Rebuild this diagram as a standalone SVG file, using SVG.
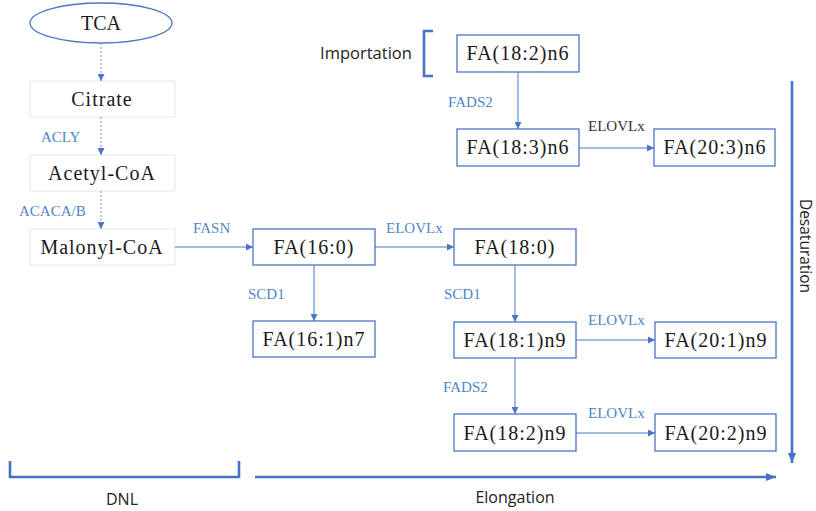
<svg xmlns="http://www.w3.org/2000/svg" width="816" height="511" viewBox="0 0 816 511">
  <style>
    .node { fill: #ffffff; stroke: #4a76c8; stroke-width: 1.3; }
    .pale { fill: #ffffff; stroke: #e6e6e6; stroke-width: 1; }
    .txt { font-family: "Liberation Serif", "Times New Roman", serif; font-size: 20px; fill: #1a1a1a; text-anchor: middle; letter-spacing: 1px; }
    .enz { font-family: "Liberation Serif", "Times New Roman", serif; font-size: 15px; fill: #4f86c6; }
    .enzd { font-family: "Liberation Serif", "Times New Roman", serif; font-size: 15px; fill: #333333; }
    .sans { font-family: "Open Sans", "Liberation Sans", sans-serif; font-size: 16px; fill: #222222; text-anchor: middle; }
    .edge { stroke: #4a76c8; stroke-width: 1; fill: none; marker-end: url(#tip); }
    .dash { stroke: #6f93d4; stroke-width: 1; fill: none; stroke-dasharray: 2 2; marker-end: url(#tip); }
    .bold { stroke: #4472c4; stroke-width: 2.6; fill: none; }
  </style>
  <defs>
    <marker id="tip" viewBox="0 0 10 10" refX="10" refY="5" markerWidth="7" markerHeight="7" markerUnits="userSpaceOnUse" orient="auto">
      <path d="M0,0 L10,5 L0,10 z" fill="#4a76c8"/>
    </marker>
    <marker id="bigtip" viewBox="0 0 10 10" refX="10" refY="5" markerWidth="10" markerHeight="10" markerUnits="userSpaceOnUse" orient="auto">
      <path d="M0,1 L10,5 L0,9 z" fill="#4472c4"/>
    </marker>
  </defs>

  <!-- de novo lipogenesis column -->
  <g id="tca">
    <ellipse cx="101" cy="23" rx="71" ry="20" fill="#ffffff" stroke="#4a76c8" stroke-width="1.3"/>
    <text class="txt" x="101" y="30" style="letter-spacing:0">TCA</text>
  </g>
  <g id="citrate">
    <rect class="pale" x="30" y="81" width="145" height="36"/>
    <text class="txt" x="102" y="106">Citrate</text>
  </g>
  <g id="acetyl-coa">
    <rect class="pale" x="30" y="155" width="145" height="36"/>
    <text class="txt" x="102" y="180">Acetyl-CoA</text>
  </g>
  <g id="malonyl-coa">
    <rect class="pale" x="30" y="229" width="145" height="36"/>
    <text class="txt" x="102" y="254">Malonyl-CoA</text>
  </g>

  <!-- fatty acid species -->
  <g id="fa18-2n6">
    <rect class="node" x="457" y="35" width="122" height="37"/>
    <text class="txt" x="518" y="60">FA(18:2)n6</text>
  </g>
  <g id="fa18-3n6">
    <rect class="node" x="457" y="129" width="122" height="37"/>
    <text class="txt" x="518" y="154">FA(18:3)n6</text>
  </g>
  <g id="fa20-3n6">
    <rect class="node" x="654" y="129" width="121" height="37"/>
    <text class="txt" x="715" y="154">FA(20:3)n6</text>
  </g>
  <g id="fa16-0">
    <rect class="node" x="253" y="229" width="122" height="36"/>
    <text class="txt" x="314" y="254">FA(16:0)</text>
  </g>
  <g id="fa18-0">
    <rect class="node" x="454" y="229" width="122" height="36"/>
    <text class="txt" x="515" y="254">FA(18:0)</text>
  </g>
  <g id="fa16-1n7">
    <rect class="node" x="253" y="321" width="122" height="36"/>
    <text class="txt" x="314" y="346">FA(16:1)n7</text>
  </g>
  <g id="fa18-1n9">
    <rect class="node" x="454" y="322" width="122" height="36"/>
    <text class="txt" x="515" y="347">FA(18:1)n9</text>
  </g>
  <g id="fa20-1n9">
    <rect class="node" x="655" y="322" width="121" height="36"/>
    <text class="txt" x="716" y="347">FA(20:1)n9</text>
  </g>
  <g id="fa18-2n9">
    <rect class="node" x="454" y="414" width="122" height="37"/>
    <text class="txt" x="515" y="440">FA(18:2)n9</text>
  </g>
  <g id="fa20-2n9">
    <rect class="node" x="655" y="414" width="121" height="37"/>
    <text class="txt" x="716" y="440">FA(20:2)n9</text>
  </g>

  <!-- reactions -->
  <g id="connectors">
    <path class="dash" d="M101,43 V81"/>
    <path class="dash" d="M101,117 V155"/>
    <path class="dash" d="M101,191 V229"/>
    <path class="edge" d="M175,247 H253"/>
    <path class="edge" d="M375,247 H454"/>
    <path class="edge" d="M314,265 V321"/>
    <path class="edge" d="M515,265 V322"/>
    <path class="edge" d="M576,340 H655"/>
    <path class="edge" d="M515,358 V414"/>
    <path class="edge" d="M576,433 H655"/>
    <path class="edge" d="M518,72 V129"/>
    <path class="edge" d="M579,148 H654"/>
  </g>

  <!-- enzyme labels -->
  <g id="enzymes">
    <text class="enz" x="41" y="142">ACLY</text>
    <text class="enz" x="19" y="216">ACACA/B</text>
    <text class="enz" x="193" y="233">FASN</text>
    <text class="enz" x="386" y="233">ELOVLx</text>
    <text class="enz" x="248" y="299">SCD1</text>
    <text class="enz" x="444" y="299">SCD1</text>
    <text class="enz" x="588" y="325">ELOVLx</text>
    <text class="enz" x="443" y="392">FADS2</text>
    <text class="enz" x="588" y="418">ELOVLx</text>
    <text class="enz" x="448" y="107">FADS2</text>
    <text class="enzd" x="588" y="131">ELOVLx</text>
  </g>

  <!-- pathway axes and brackets -->
  <g id="importation">
    <path class="bold" d="M433,31 H424 V76 H433"/>
    <text class="sans" x="366" y="59" style="font-size:16.5px">Importation</text>
  </g>
  <g id="dnl">
    <path class="bold" d="M10,461 V477 H239 V461"/>
    <text class="sans" x="122" y="505">DNL</text>
  </g>
  <g id="elongation">
    <path class="bold" d="M255,477 H776" marker-end="url(#bigtip)"/>
    <text class="sans" x="515" y="503">Elongation</text>
  </g>
  <g id="desaturation">
    <path class="bold" d="M792,81 V463" marker-end="url(#bigtip)"/>
    <text class="sans" transform="translate(800,246) rotate(90)" x="0" y="0" style="font-size:15.5px">Desaturation</text>
  </g>
</svg>
